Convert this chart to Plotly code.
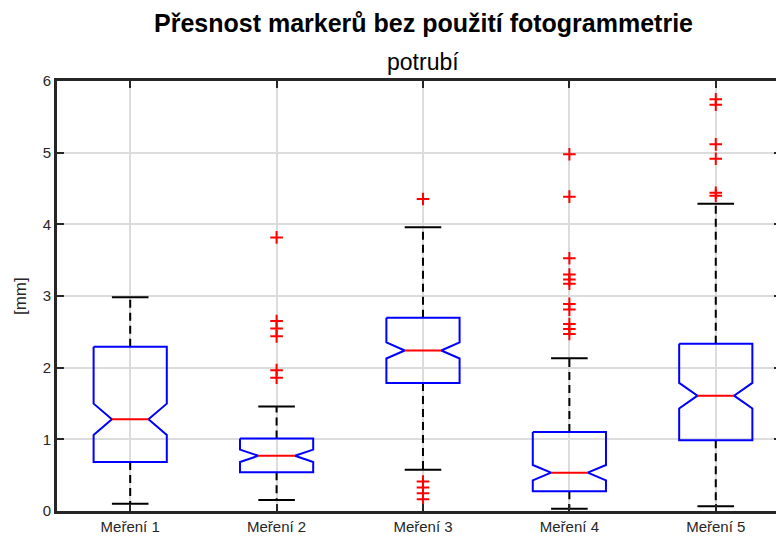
import plotly.graph_objects as go

# values (mm)
labels = ["Meření 1", "Meření 2", "Meření 3", "Meření 4", "Meření 5"]
q1 = [0.684, 0.542, 1.786, 0.274, 0.986]
median = [1.279, 0.770, 2.240, 0.535, 1.609]
q3 = [2.293, 1.010, 2.698, 1.102, 2.335]
whisker_lo = [0.102, 0.153, 0.575, 0.033, 0.065]
whisker_hi = [2.981, 1.458, 3.958, 2.130, 4.288]
notch = [0.219, 0.086, 0.112, 0.107, 0.179]
outliers = [
    [],
    [3.818, 2.650, 2.545, 2.437, 1.965, 1.860],
    [4.353, 0.410, 0.327, 0.248, 0.164],
    [4.977, 4.386, 3.526, 3.300, 3.230, 3.170, 2.890, 2.810, 2.610, 2.540, 2.470],
    [5.744, 5.670, 5.116, 4.916, 4.440, 4.400],
]

FONT = "Liberation Sans, Arial, sans-serif"
half_box = 0.25
half_notch = 0.125
half_cap = 0.125

box_x, box_y = [], []
med_x, med_y = [], []
wh_x, wh_y = [], []
cap_x, cap_y = [], []
out_x, out_y = [], []

for i in range(len(labels)):
    p = i + 1
    a, b = p - half_box, p + half_box
    na, nb = p - half_notch, p + half_notch
    m, n = median[i], notch[i]
    box_x += [a, b, b, nb, b, b, a, a, na, a, a, None]
    box_y += [q3[i], q3[i], m + n, m, m - n, q1[i], q1[i], m - n, m, m + n, q3[i], None]
    med_x += [na, nb, None]
    med_y += [m, m, None]
    wh_x += [p, p, None, p, p, None]
    wh_y += [q3[i], whisker_hi[i], None, q1[i], whisker_lo[i], None]
    cap_x += [p - half_cap, p + half_cap, None, p - half_cap, p + half_cap, None]
    cap_y += [whisker_hi[i], whisker_hi[i], None, whisker_lo[i], whisker_lo[i], None]
    out_x += [p] * len(outliers[i])
    out_y += outliers[i]

fig = go.Figure()
fig.add_trace(go.Scatter(x=wh_x, y=wh_y, mode="lines",
                         line=dict(color="black", width=2, dash="8px,5px")))
fig.add_trace(go.Scatter(x=cap_x, y=cap_y, mode="lines",
                         line=dict(color="black", width=2)))
fig.add_trace(go.Scatter(x=box_x, y=box_y, mode="lines",
                         line=dict(color="#0000ff", width=2)))
fig.add_trace(go.Scatter(x=med_x, y=med_y, mode="lines",
                         line=dict(color="#ff0000", width=2)))
fig.add_trace(go.Scatter(x=out_x, y=out_y, mode="markers",
                         marker=dict(symbol="cross-thin", size=9,
                                     line=dict(color="#ff0000", width=2))))

axis_common = dict(
    showline=True, linecolor="#262626", linewidth=3, mirror="allticks",
    ticks="inside", ticklen=7, tickwidth=2, tickcolor="#262626",
    showgrid=True, gridcolor="#dcdcdc", gridwidth=2, zeroline=False,
    tickfont=dict(family=FONT, size=15, color="#262626"),
)

# the page body has an 8px margin, so the figure is 8px smaller than the window
fig.update_layout(
    width=776, height=532,
    margin=dict(l=49, r=0, t=73, b=29),
    plot_bgcolor="white", paper_bgcolor="white",
    showlegend=False,
    xaxis=dict(axis_common, range=[0.5, 0.5 + 727 / 147],
               tickvals=list(range(1, len(labels) + 1)), ticktext=labels),
    yaxis=dict(axis_common, range=[0, 6], tickvals=[0, 1, 2, 3, 4, 5, 6]),
    annotations=[
        dict(text="<b>Přesnost markerů bez použití fotogrammetrie</b>",
             xref="paper", yref="paper", x=0.506, y=1.135,
             xanchor="center", yanchor="middle", showarrow=False,
             font=dict(family=FONT, size=25, color="black")),
        dict(text="potrubí", xref="paper", yref="paper", x=0.506, y=1.044,
             xanchor="center", yanchor="middle", showarrow=False,
             font=dict(family=FONT, size=23, color="black")),
        dict(text="[mm]", xref="paper", yref="paper", x=-0.051, y=0.5,
             xanchor="center", yanchor="middle", textangle=-90,
             showarrow=False,
             font=dict(family=FONT, size=17, color="#262626")),
    ],
)

fig.write_html("out.html")
